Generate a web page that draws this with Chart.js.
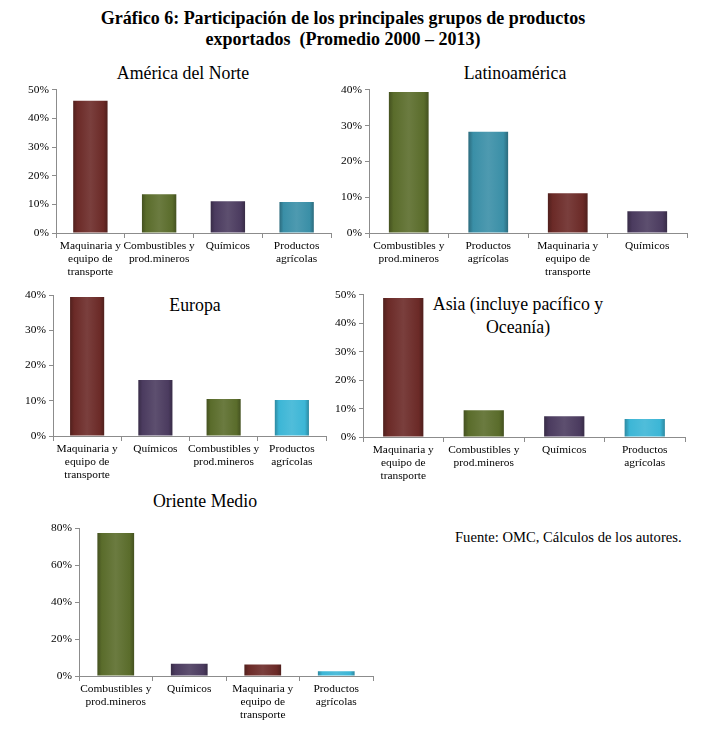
<!DOCTYPE html>
<html>
<head>
<meta charset="utf-8">
<script src="https://cdn.jsdelivr.net/npm/chart.js@4"></script>
<style>
  body { margin: 0; background: #fff; }
  #page { position: relative; width: 708px; height: 736px; overflow: hidden; font-family: "Liberation Serif", serif; color: #000; }
  #page canvas { position: absolute; }
  .t { position: absolute; transform: translate(-50%, -50%); white-space: nowrap; font-size: 17.8px; text-align: center; line-height: 23px; }
  #main { position: absolute; left: 0; width: 686px; top: 8px; text-align: center; font-weight: bold; font-size: 18px; line-height: 21px; }
  #fuente { position: absolute; left: 455px; top: 529px; font-size: 14.6px; white-space: nowrap; }
</style>
</head>
<body>
<div id="page">
  <div id="main">Gráfico 6: Participación de los principales grupos de productos<br>exportados&nbsp; (Promedio 2000 – 2013)</div>
  <div class="t" style="left:183px;top:73px">América del Norte</div>
  <div class="t" style="left:515px;top:73px">Latinoamérica</div>
  <div class="t" style="left:195px;top:305px">Europa</div>
  <div class="t" style="left:518px;top:316px">Asia (incluye pacífico y<br>Oceanía)</div>
  <div class="t" style="left:205px;top:501px">Oriente Medio</div>
  <div id="fuente">Fuente: OMC, Cálculos de los autores.</div>
  <canvas id="c1"></canvas>
  <canvas id="c2"></canvas>
  <canvas id="c3"></canvas>
  <canvas id="c4"></canvas>
  <canvas id="c5"></canvas>
</div>
<script>
// categorias
const MAQ = ['Maquinaria y', 'equipo de', 'transporte'];
const COMB = ['Combustibles y', 'prod.mineros'];
const QUIM = 'Químicos';
const AGR = ['Productos', 'agrícolas'];

const norteCats = [MAQ, COMB, QUIM, AGR];
const norteVals = [46.2, 13.5, 11.1, 10.8];

const latamCats = [COMB, AGR, MAQ, QUIM];
const latamVals = [39.4, 28.3, 11.1, 6.1];

const europaCats = [MAQ, QUIM, COMB, AGR];
const europaVals = [39.4, 15.9, 10.5, 10.2];

const asiaCats = [MAQ, COMB, QUIM, AGR];
const asiaVals = [48.9, 9.4, 7.3, 6.3];

const medioCats = [COMB, QUIM, MAQ, AGR];
const medioVals = [77.3, 6.6, 6.2, 2.6];

// colores por grupo
const colMaq = '#6b2a27';
const colComb = '#5a6c2b';
const colQuim = '#4b3b5f';
const colAgrDark = '#3a8fa7';
const colAgrLight = '#3cb6d6';

function colorFor(cat, agr) {
  if (cat === MAQ) return colMaq;
  if (cat === COMB) return colComb;
  if (cat === QUIM) return colQuim;
  return agr;
}

function shade(hex, f) {
  let r = parseInt(hex.slice(1, 3), 16), g = parseInt(hex.slice(3, 5), 16), b = parseInt(hex.slice(5, 7), 16);
  if (f > 0) { r += (255 - r) * f; g += (255 - g) * f; b += (255 - b) * f; }
  else { r *= 1 + f; g *= 1 + f; b *= 1 + f; }
  return 'rgb(' + Math.round(r) + ',' + Math.round(g) + ',' + Math.round(b) + ')';
}

const FONT = '"Liberation Serif", serif';

function makeChart(id, box, cats, vals, maxY, stepY, agrColor) {
  const el = document.getElementById(id);
  el.style.left = box.left + 'px';
  el.style.top = box.top + 'px';
  el.width = box.w; el.height = box.h;
  el.style.width = box.w + 'px'; el.style.height = box.h + 'px';
  const barPct = 0.5;
  return new Chart(el, {
    type: 'bar',
    data: {
      labels: cats,
      datasets: [{
        data: vals,
        barPercentage: barPct,
        categoryPercentage: 1,
        borderWidth: 0,
        backgroundColor: (ctx) => {
          const base = colorFor(cats[ctx.dataIndex], agrColor);
          const ch = ctx.chart;
          const xs = ch.scales && ch.scales.x;
          if (!xs || !ch.chartArea) return base;
          const cx = xs.getPixelForValue(ctx.dataIndex);
          const half = (ch.chartArea.width / cats.length) * barPct / 2;
          const gr = ch.ctx.createLinearGradient(cx - half, 0, cx + half, 0);
          gr.addColorStop(0, shade(base, -0.25));
          gr.addColorStop(0.12, base);
          gr.addColorStop(0.5, shade(base, 0.1));
          gr.addColorStop(0.88, base);
          gr.addColorStop(1, shade(base, -0.25));
          return gr;
        }
      }]
    },
    options: {
      responsive: false,
      animation: false,
      layout: { padding: { top: box.pt, right: box.pr, left: 0, bottom: 0 } },
      plugins: { legend: { display: false }, tooltip: { enabled: false } },
      scales: {
        x: {
          offset: true,
          grid: { display: true, offset: true, drawOnChartArea: false, drawTicks: true, tickLength: 5, color: '#8c8c8c' },
          border: { color: '#8c8c8c' },
          ticks: { color: '#000', font: { family: FONT, size: 11.4, lineHeight: 1.12 }, maxRotation: 0, autoSkip: false, padding: 2 },
          afterFit: (s) => { s.height = box.xh; }
        },
        y: {
          min: 0, max: maxY,
          grid: { display: true, drawOnChartArea: false, drawTicks: true, tickLength: 4, color: '#8c8c8c' },
          border: { color: '#8c8c8c' },
          ticks: { stepSize: stepY, color: '#000', padding: 3, font: { family: FONT, size: 11.4 }, callback: (v) => v + '%' },
          afterFit: (s) => { s.width = box.yw; }
        }
      }
    }
  });
}

makeChart('c1', { left: 0, top: 80, w: 340, h: 200, pt: 9, pr: 9, yw: 56, xh: 47 }, norteCats, norteVals, 50, 10, colAgrDark);
makeChart('c2', { left: 338, top: 80, w: 370, h: 200, pt: 9, pr: 21, yw: 31, xh: 47 }, latamCats, latamVals, 40, 10, colAgrDark);
makeChart('c3', { left: 0, top: 285, w: 340, h: 200, pt: 10, pr: 14, yw: 53, xh: 49 }, europaCats, europaVals, 40, 10, colAgrLight);
makeChart('c4', { left: 330, top: 285, w: 378, h: 200, pt: 9, pr: 23, yw: 33, xh: 48 }, asiaCats, asiaVals, 50, 10, colAgrLight);
makeChart('c5', { left: 0, top: 510, w: 400, h: 226, pt: 18, pr: 27, yw: 79, xh: 60 }, medioCats, medioVals, 80, 20, colAgrLight);
</script>
</body>
</html>
